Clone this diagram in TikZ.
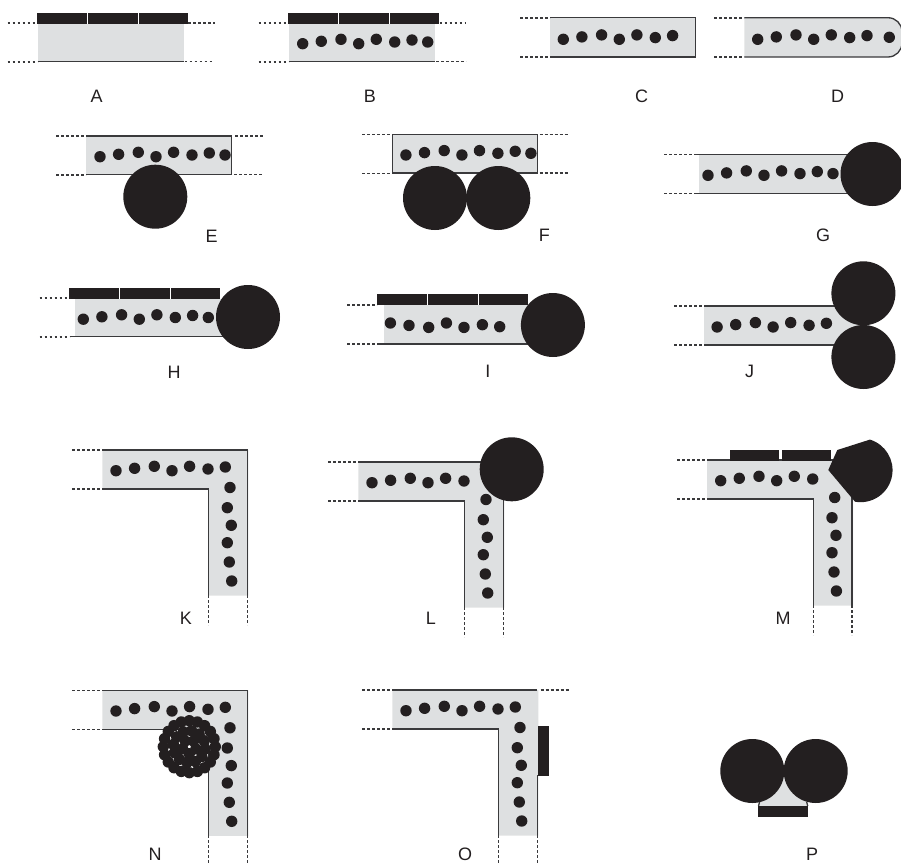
\documentclass[tikz,border=0pt]{standalone}
\usepackage{fontspec}
\setmainfont{Liberation Sans}
\definecolor{cink}{HTML}{231F20}
\definecolor{cgel}{HTML}{DEE0E1}
\definecolor{cwall}{HTML}{3A3A3C}
\tikzset{
  every picture/.style={x=0.75pt, y=-0.75pt},
  gel/.style={fill=cgel},
  wall/.style={draw=cwall, line width=1pt},
  leader/.style={draw=cwall, line width=1pt, dash pattern=on 2.2pt off 1.55pt},
  plate/.style={fill=cink},
  letter/.style={font=\fontsize{13.5}{15}\selectfont, text=cink, inner sep=0pt},
}
% beads of a straight run: x0, y0, how many, +1 or -1 for a flipped row
\newcommand{\beads}[4]{
  \foreach \dx/\dy [count=\i] in {13.7/20.7,32.3/18.3,52/16.3,69.7/20.7,87.3/16.3,105.7/19,123/17,138.7/19} {
    \ifnum\i>#3\relax\else\fill[cink] ({#1+\dx},{#2+#4*\dy}) circle[radius=5.7];\fi
  }
}
% plate of three pieces: left end, top
\newcommand{\plates}[2]{
  \fill[plate] (#1,#2) rectangle ({#1+151},{#2+11});
  \foreach \s in {50.3,101} \draw[white, line width=0.6pt] ({#1+\s},#2) -- ({#1+\s},{#2+11});
}
% dotted ends on the left of a run: x, top
\newcommand{\leftends}[2]{
  \draw[leader] ({#1-30},#2) -- (#1,#2);
  \draw[leader] ({#1-30},{#2+39}) -- (#1,{#2+39});
}
% bent run without its outer wall: left, top, beads in the first leg
\newcommand{\bend}[3]{
  \fill[gel] (#1,#2) -- ({#1+146},#2) -- ({#1+146},{#2+145.5}) -- ({#1+106.4},{#2+145.5}) -- ({#1+106.4},{#2+39}) -- (#1,{#2+39}) -- cycle;
  \draw[wall] (#1,{#2+39}) -- ({#1+106.4},{#2+39}) -- ({#1+106.4},{#2+145});
  \leftends{#1}{#2}
  \draw[leader] ({#1+106.4},{#2+145}) -- ({#1+106.4},{#2+175});
  \draw[leader] ({#1+145},{#2+145}) -- ({#1+145},{#2+175});
  \beads{#1}{#2}{#3}{1}
  \foreach \dx/\dy in {21.3/37.5,18.6/57.7,22.6/75.3,18.6/92.7,20.6/112,23/131}
    \fill[cink] ({#1+106.4+\dx},{#2+\dy}) circle[radius=5.7];
}
\begin{document}
\begin{tikzpicture}
  \useasboundingbox (0,0) rectangle (901,865);
  % first row
  \fill[gel] (38,23.7) rectangle (183.7,61.7);
  \draw[wall] (38,61.7) -- (183.7,61.7);
  \plates{37}{12.7}
  \leftends{37.5}{23}
  \draw[leader] (188,23) -- (215,23);
  \draw[leader] (184.5,61.7) -- (214,61.7);
  \fill[gel] (289,23.7) rectangle (435,61.7);
  \draw[wall] (289,61.7) -- (435,61.7);
  \plates{288.3}{12.7}
  \leftends{288.5}{23}
  \draw[leader] (439.5,23) -- (466,23);
  \draw[leader] (436,61.7) -- (466,61.7);
  \beads{289}{23}{8}{1}
  \fill[gel] (550,17.7) rectangle (695.7,57);
  \draw[wall] (550,17.7) -- (695.7,17.7) -- (695.7,57) -- (550,57);
  \leftends{550}{18}
  \beads{549.6}{18.6}{7}{1}
  \draw[wall, fill=cgel] (744.3,17.7) -- (888,17.7) arc[start angle=-90,end angle=0,radius=14] -- (902,43) arc[start angle=0,end angle=90,radius=14] -- (744.3,57);
  \leftends{744.3}{18}
  \beads{744}{18.6}{7}{1}
  \fill[cink] (889.3,37.3) circle[radius=5.7];
  % second row
  \fill[gel] (86,136) rectangle (231.7,174.7);
  \draw[wall] (86,136) -- (231.7,136) -- (231.7,174.7) -- (86,174.7);
  \leftends{86}{136}
  \draw[leader] (235,136) -- (263,136);
  \draw[leader] (234,174.7) -- (263,174.7);
  \beads{86.3}{136}{8}{1}
  \fill[cink] (155.3,196.7) circle[radius=32];
  \fill[gel] (392.2,134.3) rectangle (537.3,173);
  \draw[wall] (392.2,134.3) rectangle (537.3,173);
  \leftends{392.2}{134.3}
  \draw[leader] (539.7,134.3) -- (568.5,134.3);
  \draw[leader] (539.7,173) -- (568.5,173);
  \beads{392.2}{134.3}{8}{1}
  \fill[cink] (435,198) circle[radius=32];
  \fill[cink] (498.3,198) circle[radius=32];
  \fill[gel] (699,154.3) rectangle (860,193.3);
  \draw[wall] (694.3,154.3) -- (860,154.3);
  \draw[wall] (694.3,193.3) -- (860,193.3);
  \leftends{694.3}{154.3}
  \beads{694.3}{154.6}{8}{1}
  \fill[cink] (872.5,174) circle[radius=32];
  % third row
  \fill[gel] (75,298.7) rectangle (235,336.7);
  \draw[wall] (70,336.7) -- (235,336.7);
  \plates{69}{287.7}
  \leftends{69.5}{298}
  \beads{69.6}{298.5}{8}{1}
  \fill[cink] (248,317) circle[radius=32];
  \fill[gel] (383.6,305.3) rectangle (540,344);
  \draw[wall] (377,344) -- (540,344);
  \plates{377}{294.3}
  \leftends{377}{305}
  \beads{376.7}{343.7}{7}{-1}
  \fill[cink] (552.9,325) circle[radius=32];
  \fill[gel] (704,306) rectangle (870,345);
  \draw[wall] (704,306) -- (850,306);
  \draw[wall] (704,345) -- (850,345);
  \leftends{704}{306}
  \beads{703.4}{306.3}{7}{1}
  \fill[cink] (863.4,293.3) circle[radius=32];
  \fill[cink] (863.4,357) circle[radius=32];
  % bent runs
  \bend{102.3}{450}{7}
  \draw[wall] (102.3,450) -- (247.3,450) -- (247.3,594.7);
  \bend{358.3}{462}{6}
  \draw[wall] (358.3,462) -- (503.3,462) -- (503.3,607);
  \fill[cink] (511.7,469.3) circle[radius=32];
  \bend{707}{460}{6}
  \draw[wall] (707,460) -- (852,460) -- (852,605);
  \fill[plate] (729.7,450.3) rectangle (779,460.7);
  \fill[plate] (781.7,450.3) rectangle (831,460.7);
  \fill[cink] (855,501.7) arc[start angle=100,end angle=-73,radius=32] -- (837.3,450) -- (828.3,470) -- cycle;
  \bend{102.3}{690.3}{7}
  \draw[wall] (102.3,690.3) -- (247.3,690.3) -- (247.3,835.7);
  \foreach \n/\r/\o in {20/26/0,12/16/8,5/7/18}
    \foreach \k in {1,...,\n}
      \fill[cink] ({189.3+\r*cos(\k*360/\n+\o)},{746.7+\r*sin(\k*360/\n+\o)}) circle[radius=5.7];
  \bend{392.3}{690}{7}
  \draw[wall] (392.3,690) -- (537.3,690);
  \draw[wall] (537.3,775) -- (537.3,835.7);
  \draw[leader] (540.7,690) -- (569.3,690);
  \fill[plate] (537.7,726.3) rectangle (549.3,775.7);
  % pair of rolls
  \fill[gel] (759.5,802) -- (758.5,806) -- (807.7,806) -- (806.7,802) -- (784,770) -- cycle;
  \draw[wall] (759.5,802) -- (758.5,806);
  \draw[wall] (806.7,802) -- (807.7,806);
  \fill[cink] (752.3,771) circle[radius=32];
  \fill[cink] (815.7,771) circle[radius=32];
  \fill[plate] (758.3,805.7) rectangle (807.7,816.7);
  % letters
  \foreach \t/\x/\y in {A/96.7/96.7,B/370/96.7,C/641.7/96.7,D/837.7/96.7,E/211.7/236,F/544.3/235.7,G/823/235.7,
    H/174/372,I/487.8/371,J/749.7/371,K/186/618,L/431/618,M/783/618,N/155/854,O/465/854,P/812/854}
    \node[letter] (lbl\t) at (\x,\y) {\t};
\end{tikzpicture}
\end{document}
